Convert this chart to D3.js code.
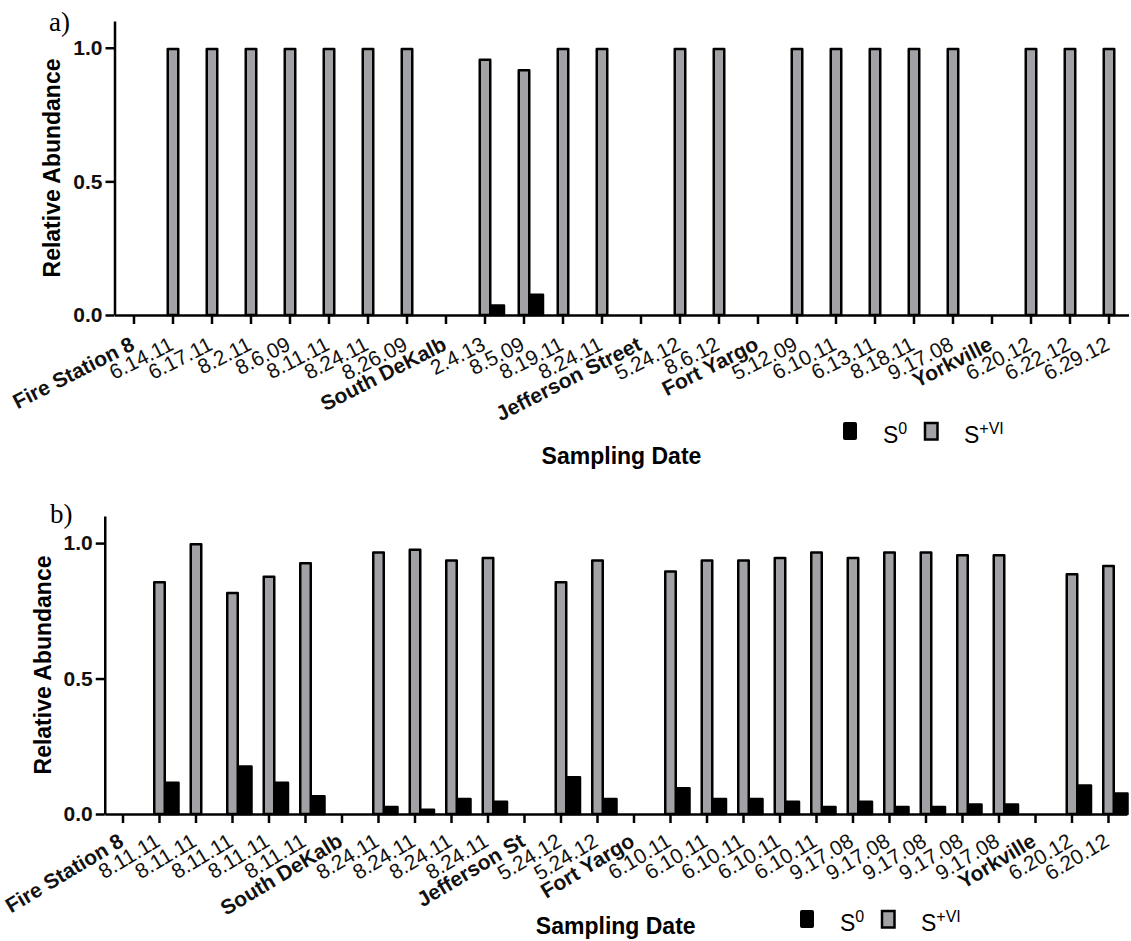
<!DOCTYPE html>
<html>
<head>
<meta charset="utf-8">
<script src="https://cdn.jsdelivr.net/npm/d3@7"></script>
<style>
  html, body { margin: 0; padding: 0; background: #fff; }
  svg { display: block; }
</style>
</head>
<body>
<svg id="chart" width="1131" height="941"></svg>
<script>
// ---------------- DATA ----------------
const sites = ["Fire Station 8", "South DeKalb", "Jefferson Street", "Jefferson St", "Fort Yargo", "Yorkville"];
const seriesNames = ["S0", "S+VI"];
const yTicks = [0, 0.5, 1.0];

// Panel a
const labelsA = ["Fire Station 8", "6.14.11", "6.17.11", "8.2.11", "8.6.09", "8.11.11", "8.24.11", "8.26.09",
  "South DeKalb", "2.4.13", "8.5.09", "8.19.11", "8.24.11",
  "Jefferson Street", "5.24.12", "8.6.12",
  "Fort Yargo", "5.12.09", "6.10.11", "6.13.11", "8.18.11", "9.17.08",
  "Yorkville", "6.20.12", "6.22.12", "6.29.12"];
const s0A = [null, 0, 0, 0, 0, 0, 0, 0, null, 0.04, 0.08, 0, 0, null, 0, 0, null, 0, 0, 0, 0, 0, null, 0, 0, 0];
const sVIA = [null, 1, 1, 1, 1, 1, 1, 1, null, 0.96, 0.92, 1, 1, null, 1, 1, null, 1, 1, 1, 1, 1, null, 1, 1, 1];

// Panel b
const labelsB = ["Fire Station 8", "8.11.11", "8.11.11", "8.11.11", "8.11.11", "8.11.11",
  "South DeKalb", "8.24.11", "8.24.11", "8.24.11", "8.24.11",
  "Jefferson St", "5.24.12", "5.24.12",
  "Fort Yargo", "6.10.11", "6.10.11", "6.10.11", "6.10.11", "6.10.11",
  "9.17.08", "9.17.08", "9.17.08", "9.17.08", "9.17.08",
  "Yorkville", "6.20.12", "6.20.12"];
const s0B = [null, 0.12, 0, 0.18, 0.12, 0.07, null, 0.03, 0.02, 0.06, 0.05, null, 0.14, 0.06,
  null, 0.10, 0.06, 0.06, 0.05, 0.03, 0.05, 0.03, 0.03, 0.04, 0.04, null, 0.11, 0.08];
const sVIB = [null, 0.86, 1.00, 0.82, 0.88, 0.93, null, 0.97, 0.98, 0.94, 0.95, null, 0.86, 0.94,
  null, 0.90, 0.94, 0.94, 0.95, 0.97, 0.95, 0.97, 0.97, 0.96, 0.96, null, 0.89, 0.92];

// ---------------- STYLE ----------------
const GRAY = "#a2a2a6";
const SW = 2.5;
const GRAY_W = 13, BLACK_W = 15;
const FONT = "'Liberation Sans', Arial, Helvetica, sans-serif";

const svg = d3.select("#chart");

function panel(opt) {
  const { labels, s0, sVI, left, right, top, bottom, tag, tagPos, titleY, ytitleX, legend, angle, labelDy } = opt;
  const g = svg.append("g");
  const n = labels.length;
  const x = d3.scaleBand().domain(d3.range(n)).range([left, right]).padding(0);
  const y = d3.scaleLinear().domain([0, 1.1]).range([bottom, top]);
  const cx = i => x(i) + x.bandwidth() / 2;

  // bars S+VI (gray) centered on tick
  g.selectAll("rect.gray").data(sVI.map((v, i) => ({ v, i })).filter(d => d.v))
    .join("rect").attr("class", "gray")
    .attr("x", d => cx(d.i) - GRAY_W / 2 + SW / 2)
    .attr("width", GRAY_W - SW)
    .attr("y", d => y(d.v) + SW / 2)
    .attr("height", d => y(0) - y(d.v) - SW / 2)
    .attr("fill", GRAY).attr("stroke", "#000").attr("stroke-width", SW)
    .attr("stroke-linejoin", "round");
  // bars S0 (black) right of tick
  g.selectAll("rect.black").data(s0.map((v, i) => ({ v, i })).filter(d => d.v))
    .join("rect").attr("class", "black")
    .attr("x", d => cx(d.i) + GRAY_W / 2)
    .attr("width", BLACK_W - SW)
    .attr("y", d => y(d.v) + SW / 2)
    .attr("height", d => Math.max(0, y(0) - y(d.v) - SW / 2))
    .attr("fill", "#000").attr("stroke", "#000").attr("stroke-width", SW)
    .attr("stroke-linejoin", "round");

  // y axis
  const ya = g.append("g").attr("transform", `translate(${left},0)`)
    .call(d3.axisLeft(y).tickValues(yTicks).tickFormat(d3.format(".1f")).tickSize(9).tickSizeOuter(0).tickPadding(3));
  ya.select(".domain").attr("stroke-width", SW);
  ya.selectAll(".tick line").attr("stroke-width", SW);
  ya.selectAll(".tick text").attr("font-family", FONT).attr("font-size", 21).attr("font-weight", "bold").attr("fill", "#111");

  // x axis
  const xa = g.append("g").attr("transform", `translate(0,${bottom})`)
    .call(d3.axisBottom(x).tickFormat(i => labels[i]).tickSize(9).tickSizeOuter(0));
  xa.select(".domain").attr("stroke-width", SW);
  xa.selectAll(".tick line").attr("stroke-width", SW);
  xa.selectAll(".tick text")
    .attr("font-family", FONT).attr("font-size", 21)
    .attr("font-weight", i => sites.includes(labels[i]) ? "bold" : "normal")
    .attr("fill", "#111")
    .attr("y", 0).attr("dy", 0)
    .attr("text-anchor", "end")
    .attr("transform", `translate(2,${labelDy}) rotate(${-angle})`);

  // axis titles
  g.append("text").attr("transform", `translate(${ytitleX},${(top + bottom) / 2}) rotate(-90)`)
    .attr("text-anchor", "middle").attr("font-family", FONT).attr("font-size", 23).attr("font-weight", "bold")
    .text("Relative Abundance");
  g.append("text").attr("x", (left + right) / 2).attr("y", titleY)
    .attr("text-anchor", "middle").attr("font-family", FONT).attr("font-size", 23).attr("font-weight", "bold")
    .text("Sampling Date");

  // panel tag
  g.append("text").attr("x", tagPos[0]).attr("y", tagPos[1])
    .attr("font-family", "'Liberation Serif', 'Times New Roman', serif").attr("font-size", 27)
    .text(tag);

  // legend
  const lg = g.append("g").attr("transform", `translate(${legend[0]},${legend[1]})`);
  lg.append("rect").attr("x", 0).attr("y", 0).attr("width", 14).attr("height", 18).attr("rx", 2)
    .attr("fill", "#000");
  const t0 = lg.append("text").attr("x", 40).attr("y", 21).attr("font-family", FONT).attr("font-size", 23);
  t0.append("tspan").text("S");
  t0.append("tspan").attr("dy", -9).attr("font-size", 16).text("0");
  lg.append("rect").attr("x", 82).attr("y", 1).attr("width", 12.5).attr("height", 16.5)
    .attr("fill", GRAY).attr("stroke", "#000").attr("stroke-width", SW);
  const t1 = lg.append("text").attr("x", 121).attr("y", 21).attr("font-family", FONT).attr("font-size", 23);
  t1.append("tspan").text("S");
  t1.append("tspan").attr("dy", -9).attr("font-size", 16).text("+VI");
}

panel({
  labels: labelsA, s0: s0A, sVI: sVIA,
  left: 114.5, right: 1128.5, top: 21, bottom: 315,
  tag: "a)", tagPos: [49, 31], titleY: 464, ytitleX: 60, legend: [843, 422],
  angle: 27, labelDy: 34
});
panel({
  labels: labelsB, s0: s0B, sVI: sVIB,
  left: 104.75, right: 1126.75, top: 516, bottom: 814,
  tag: "b)", tagPos: [50, 523], titleY: 934, ytitleX: 51, legend: [800, 910],
  angle: 31, labelDy: 31
});
</script>
</body>
</html>
